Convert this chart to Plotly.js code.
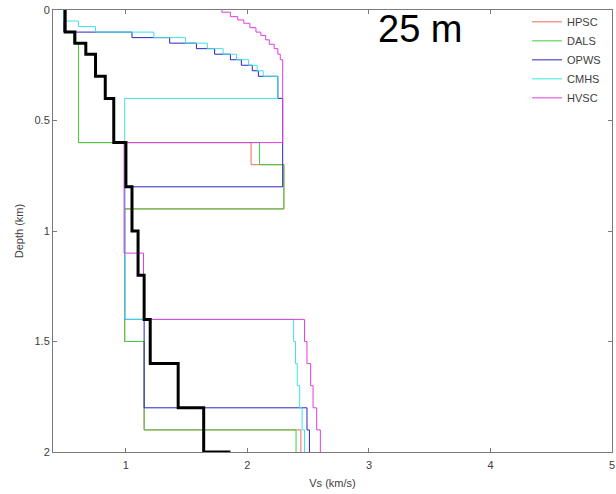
<!DOCTYPE html>
<html>
<head>
<meta charset="utf-8">
<script src="https://cdn.plot.ly/plotly-3.0.1.min.js"></script>
<style>html,body{margin:0;padding:0;background:#fff;}#chart{width:616px;height:494px;}</style>
</head>
<body>
<div id="chart"></div>
<script>
// Layer tops (km) and shear-wave velocities (km/s) for each model; bottom of profiles at 2 km
const maxDepth = 2.0;

const hpscTop = [0, 0.1, 0.15, 0.6, 0.7, 0.9, 1.5, 1.9];
const hpscVs  = [0.49, 0.57, 0.61, 2.03, 2.30, 0.99, 1.15, 2.44];

const dalsTop = [0, 0.1, 0.15, 0.6, 0.7, 0.9, 1.5, 1.9];
const dalsVs  = [0.49, 0.57, 0.61, 2.10, 2.30, 0.99, 1.15, 2.40];

const opwsTop = [0, 0.1, 0.125, 0.15, 0.175, 0.2, 0.225, 0.25, 0.275, 0.3, 0.4, 0.8, 1.4, 1.8, 1.9];
const opwsVs  = [0.49, 1.05, 1.36, 1.58, 1.73, 1.86, 1.95, 2.04, 2.09, 2.25, 2.29, 0.99, 1.15, 2.49, 2.51];

const cmhsTop = [0, 0.05, 0.075, 0.1, 0.125, 0.15, 0.175, 0.2, 0.225, 0.25, 0.275, 0.3, 0.4, 1.4, 1.5, 1.6, 1.7, 1.8, 1.9];
const cmhsVs  = [0.49, 0.61, 0.75, 1.23, 1.49, 1.67, 1.80, 1.91, 2.01, 2.08, 2.13, 2.25, 0.99, 2.38, 2.395, 2.41, 2.43, 2.45, 2.47];

const hvscTop = [0, 0.01, 0.03, 0.045, 0.06, 0.08, 0.1, 0.115, 0.135, 0.155, 0.175, 0.2, 0.225, 0.6, 1.1, 1.4, 1.5, 1.6, 1.7, 1.8, 1.9];
const hvscVs  = [1.79, 1.86, 1.92, 1.97, 2.02, 2.07, 2.11, 2.15, 2.18, 2.22, 2.25, 2.27, 2.29, 0.985, 1.145, 2.47, 2.49, 2.52, 2.54, 2.57, 2.60];

const refTop = [0, 0.1, 0.15, 0.2, 0.3, 0.4, 0.6, 0.8, 1.0, 1.2, 1.4, 1.6, 1.8];
const refVs  = [0.5, 0.58, 0.67, 0.75, 0.83, 0.9, 1.0, 1.05, 1.1, 1.15, 1.2, 1.43, 1.64];
const refHalfspaceVs = 1.86;

const modelNames  = ['HPSC', 'DALS', 'OPWS', 'CMHS', 'HVSC'];
const modelTops   = [hpscTop, dalsTop, opwsTop, cmhsTop, hvscTop];
const modelVs     = [hpscVs, dalsVs, opwsVs, cmhsVs, hvscVs];
const modelColors = ['#f06a5a', '#3ccf3c', '#2626c4', '#3fe2e2', '#e23ce2'];

const xTicks = [1, 2, 3, 4, 5];
const yTicks = [0, 0.5, 1, 1.5, 2];
const yTickText = ['0', '0.5', '1', '1.5', '2'];

function profile(tops, vs, lastVs) {
  const x = vs.slice();
  const y = tops.slice();
  x.push(lastVs === undefined ? vs[vs.length - 1] : lastVs);
  y.push(maxDepth);
  return {x: x, y: y};
}

const traces = modelNames.map((name, i) => {
  const p = profile(modelTops[i], modelVs[i]);
  return {
    type: 'scatter', mode: 'lines', name: name,
    x: p.x, y: p.y,
    line: {color: modelColors[i], width: 1, shape: 'vh'}
  };
});
const r = profile(refTop, refVs, refHalfspaceVs);
traces.push({
  type: 'scatter', mode: 'lines', name: 'ref', showlegend: false,
  x: r.x, y: r.y,
  line: {color: '#000000', width: 3, shape: 'vh'}
});

const font = 'Liberation Sans, Arial, Helvetica, sans-serif';
const layout = {
  width: 616, height: 494,
  margin: {l: 53, r: 4, t: 10, b: 42},
  paper_bgcolor: '#ffffff', plot_bgcolor: '#ffffff',
  font: {family: font, size: 11, color: '#404040'},
  showlegend: true,
  legend: {
    x: 0.848, xanchor: 'left', y: 1.006, yanchor: 'top',
    bgcolor: 'rgba(255,255,255,0)', borderwidth: 0,
    font: {family: font, size: 11, color: '#404040'},
    tracegroupgap: 0
  },
  xaxis: {
    range: [0.4, 5], tickmode: 'array', tickvals: xTicks,
    ticks: 'inside', ticklen: 4, tickcolor: '#7a7a7a',
    showline: true, linecolor: '#7a7a7a', linewidth: 1, mirror: 'ticks',
    showgrid: false, zeroline: false, ticklabelstandoff: 3,
    tickfont: {family: font, size: 11, color: '#404040'},
    title: {text: 'Vs (km/s)', font: {family: font, size: 11, color: '#404040'}, standoff: 9}
  },
  yaxis: {
    range: [2, 0], tickmode: 'array', tickvals: yTicks, ticktext: yTickText,
    ticks: 'inside', ticklen: 4, tickcolor: '#7a7a7a',
    showline: true, linecolor: '#7a7a7a', linewidth: 1, mirror: 'ticks',
    showgrid: false, zeroline: false,
    tickfont: {family: font, size: 11, color: '#404040'},
    title: {text: 'Depth (km)', font: {family: font, size: 11, color: '#404040'}, standoff: 8}
  },
  annotations: [{
    text: '25 m', xref: 'paper', yref: 'paper', x: 0.657, y: 0.958,
    xanchor: 'center', yanchor: 'middle', showarrow: false,
    font: {family: font, size: 38, color: '#000000'}
  }]
};

Plotly.newPlot('chart', traces, layout, {displayModeBar: false, staticPlot: true});
</script>
</body>
</html>
